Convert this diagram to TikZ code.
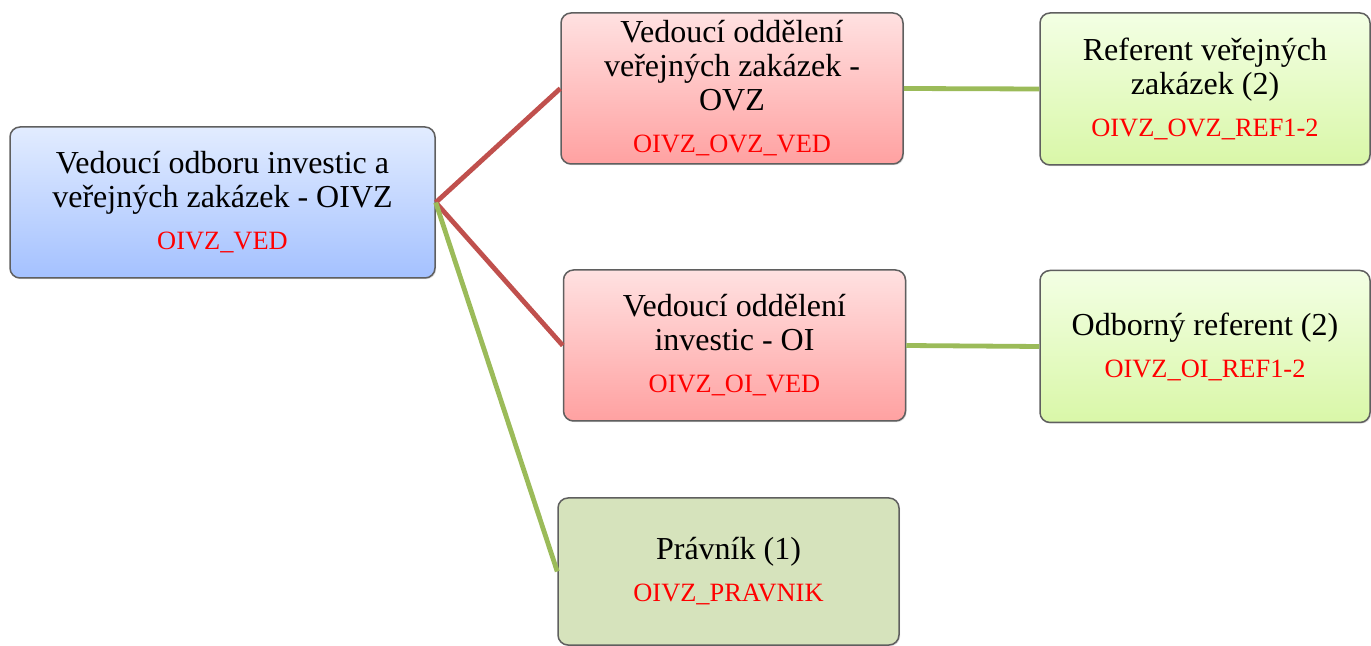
\documentclass[tikz,border=0pt]{standalone}
\usepackage{fontspec}
\setmainfont{Liberation Serif}
\usetikzlibrary{positioning,shadows}
\definecolor{redline}{HTML}{C0504D}
\definecolor{greenline}{HTML}{9BBB59}
\definecolor{boxedge}{HTML}{5F5F5F}
\definecolor{lawgreen}{HTML}{D6E3BC}
\definecolor{headtop}{HTML}{E2ECFF}
\definecolor{headbot}{HTML}{A4C1FF}
\definecolor{leadtop}{HTML}{FFE1E1}
\definecolor{leadbot}{HTML}{FFA1A1}
\definecolor{stafftop}{HTML}{F3FFE4}
\definecolor{staffbot}{HTML}{D9F7A8}
\newcommand{\code}[1]{\\[4pt]{\color{red}\fontsize{13.2}{15}\selectfont #1}}
\tikzset{
    unit/.style={draw=boxedge, line width=0.75pt, rounded corners=5pt, align=center,
        inner sep=0pt, font=\fontsize{16}{17}\selectfont,
        drop shadow={shadow xshift=0.6pt, shadow yshift=-0.6pt, opacity=0.25}},
    headbox/.style={unit, top color=headtop, bottom color=headbot,
        minimum width=212.5pt, minimum height=75.5pt},
    leadbox/.style={unit, top color=leadtop, bottom color=leadbot,
        minimum width=171pt, minimum height=75.5pt},
    staffbox/.style={unit, top color=stafftop, bottom color=staffbot,
        minimum width=165pt, minimum height=76pt},
    lawbox/.style={unit, fill=lawgreen, minimum width=170.5pt, minimum height=73.5pt},
    redlink/.style={draw=redline, line width=2.4pt},
    greenlink/.style={draw=greenline, line width=2.4pt}
}
\begin{document}
\begin{tikzpicture}[x=0.5pt, y=-0.5pt]
    \useasboundingbox (0,0) rectangle (1371,646);
    \node (ved) [headbox] at (222.5,202.5) {Vedoucí odboru investic a\\veřejných zakázek - OIVZ\code{OIVZ\_VED}};
    \node (ovz) [leadbox] at (732,88.5) {Vedoucí oddělení\\veřejných zakázek -\\OVZ\code{OIVZ\_OVZ\_VED}};
    \node (oi) [leadbox] at (734.5,345.5) {Vedoucí oddělení\\investic - OI\code{OIVZ\_OI\_VED}};
    \node (prav) [lawbox] at (728.5,571.5) {Právník (1)\code{OIVZ\_PRAVNIK}};
    \node (refovz) [staffbox] at (1205,89) {Referent veřejných\\zakázek (2)\code{OIVZ\_OVZ\_REF1-2}};
    \node (refoi) [staffbox] at (1205,346.5) {Odborný referent (2)\code{OIVZ\_OI\_REF1-2}};
    \draw[redlink] (ved.east) -- (ovz.west);
    \draw[redlink] (ved.east) -- (oi.west);
    \draw[greenlink] (ved.east) -- (prav.west);
    \draw[greenlink] (ovz.east) -- (refovz.west);
    \draw[greenlink] (oi.east) -- (refoi.west);
\end{tikzpicture}
\end{document}
